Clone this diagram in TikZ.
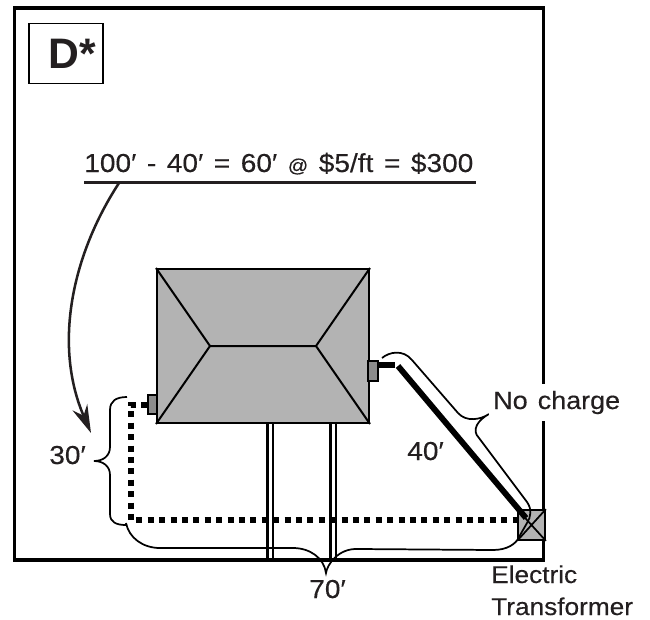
\documentclass[tikz,border=0pt]{standalone}
\usepackage{fontspec}
\setmainfont{Liberation Sans}
\newfontfamily\lblfont[FakeStretch=1.08,FakeBold=0.25,WordSpace=1.35]{Liberation Sans}
\usetikzlibrary{arrows.meta}
\definecolor{ink}{HTML}{231F20}
\definecolor{roofgray}{HTML}{B3B3B3}
\definecolor{metergray}{HTML}{8C8C8C}
\tikzset{
  x=0.75pt,y=-0.75pt,
  lbl/.style={anchor=base west,inner sep=0pt,text=ink,font=\lblfont\fontsize{19.5}{22}\selectfont},
  roofline/.style={draw=black,line width=1.5pt},
  brace/.style={draw=black,line width=1.3pt},
  meterbox/.style={draw=black,fill=metergray,line width=1.3pt,minimum width=7pt,minimum height=14.5pt,inner sep=0pt,rectangle},
  cable/.style={draw=black,line width=4.4pt},
  buried/.style={draw=black,line width=4.5pt,dash pattern=on 4.5pt off 4.05pt},
  drive/.style={draw=black,line width=1.6pt},
}
\begin{document}
\begin{tikzpicture}
\useasboundingbox (0,0) rectangle (650,619);
% lot
\node[draw=black,line width=2.6pt,rectangle,minimum width=396.75pt,minimum height=414pt,inner sep=0pt] (lot) at (279.25,284) {};
% label box
\node[draw=black,line width=1.3pt,rectangle,minimum width=55.5pt,minimum height=45pt,inner sep=0pt] (dbox) at (66,53.5) {};
\node[anchor=base west,inner sep=0pt,text=ink,font=\fontsize{32}{36}\selectfont\bfseries] (dtext) at (48,68) {D*};
% equation
\node[lbl] (eq) at (84,172) {100′ - 40′ = 60′ {\fontsize{14}{16}\selectfont @} \$5/ft = \$300};
\coordinate (ulL) at (84,182.5);
\coordinate (ulR) at (476,182.5);
\coordinate (arrowstart) at (119,183);
\coordinate (arrowend) at (91,433);
\draw[draw=ink,line width=2pt] (ulL) -- (ulR);
\draw[draw=ink,line width=1.9pt,-{Stealth[length=21pt,width=12pt]}] (arrowstart) .. controls (72,255) and (53,345) .. (arrowend);
% driveway
\coordinate (d1t) at (267.5,423); \coordinate (d1b) at (267.5,560);
\coordinate (d2t) at (273,423); \coordinate (d2b) at (273,560);
\coordinate (d3t) at (330.5,423); \coordinate (d3b) at (330.5,560);
\coordinate (d4t) at (336,423); \coordinate (d4b) at (336,560);
\draw[drive] (d1t) -- (d1b) (d2t) -- (d2b) (d3t) -- (d3b) (d4t) -- (d4b);
% house
\node[draw=black,fill=roofgray,line width=1.5pt,rectangle,minimum width=159pt,minimum height=115.5pt,inner sep=0pt] (house) at (263,346) {};
\coordinate (ridgeL) at (210,346);
\coordinate (ridgeR) at (316,346);
\draw[roofline] (house.north west) -- (ridgeL) -- (house.south west)
  (house.north east) -- (ridgeR) -- (house.south east)
  (ridgeL) -- (ridgeR);
% meters
\node[meterbox] (mL) at (152.5,404.5) {};
\node[meterbox] (mR) at (373,371) {};
% transformer
\node[draw=black,fill=roofgray,line width=1.3pt,rectangle,minimum width=20.25pt,minimum height=22.5pt,inner sep=0pt] (tr) at (531.5,525) {};
\draw[line width=1.3pt] (tr.north west) -- (tr.south east) (tr.north east) -- (tr.south west);
% cables
\coordinate (c1) at (395,365);
\coordinate (c2) at (398,366);
\coordinate (c3) at (526,518);
\draw[cable] (mR.east |- c1) -- (c1);
\draw[cable] (c2) -- (c3);
\coordinate (corner) at (131,520);
\draw[buried] (mL.west) -- (corner |- mL.west) -- (corner) -- (tr.west |- corner);
% no charge brace
\draw[brace] (382,358) .. controls (389,352) and (403,349) .. (412,360)
  -- (458,413) .. controls (466,422) and (480,420) .. (489,414)
  .. controls (478,420) and (471,430) .. (479,438)
  -- (527,502) .. controls (532,509) and (531,517) .. (527,523);
% 70 brace
\draw[brace] (126,523) .. controls (129,538) and (143,548) .. (160,548)
  -- (293,548) .. controls (310,548) and (324,558) .. (326,573)
  .. controls (327,565) and (338,548) .. (358,549)
  -- (493,550) .. controls (507,550) and (516,544) .. (519,537) -- (527,523);
% 30 brace
\draw[brace] (127,397) .. controls (116,397) and (110,401) .. (110,410)
  -- (110,447) .. controls (110,456) and (103,461) .. (94,461)
  .. controls (103,461) and (110,466) .. (110,475)
  -- (110,514) .. controls (110,522) and (116,525) .. (126,525);
% labels
\node[lbl,fill=white,inner ysep=5pt,inner xsep=3pt] (nc) at (489,409) {\fontsize{18.7}{20}\selectfont No charge};
\node[lbl] (l40) at (407,460) {40′};
\node[lbl] (l30) at (49,464) {30′};
\node[lbl] (l70) at (309,598) {70′};
\node[lbl,font=\lblfont\fontsize{18.2}{20}\selectfont] (el) at (491,583) {Electric};
\node[lbl,font=\lblfont\fontsize{18.2}{20}\selectfont] (tf) at (491,615) {Transformer};
\end{tikzpicture}
\end{document}
